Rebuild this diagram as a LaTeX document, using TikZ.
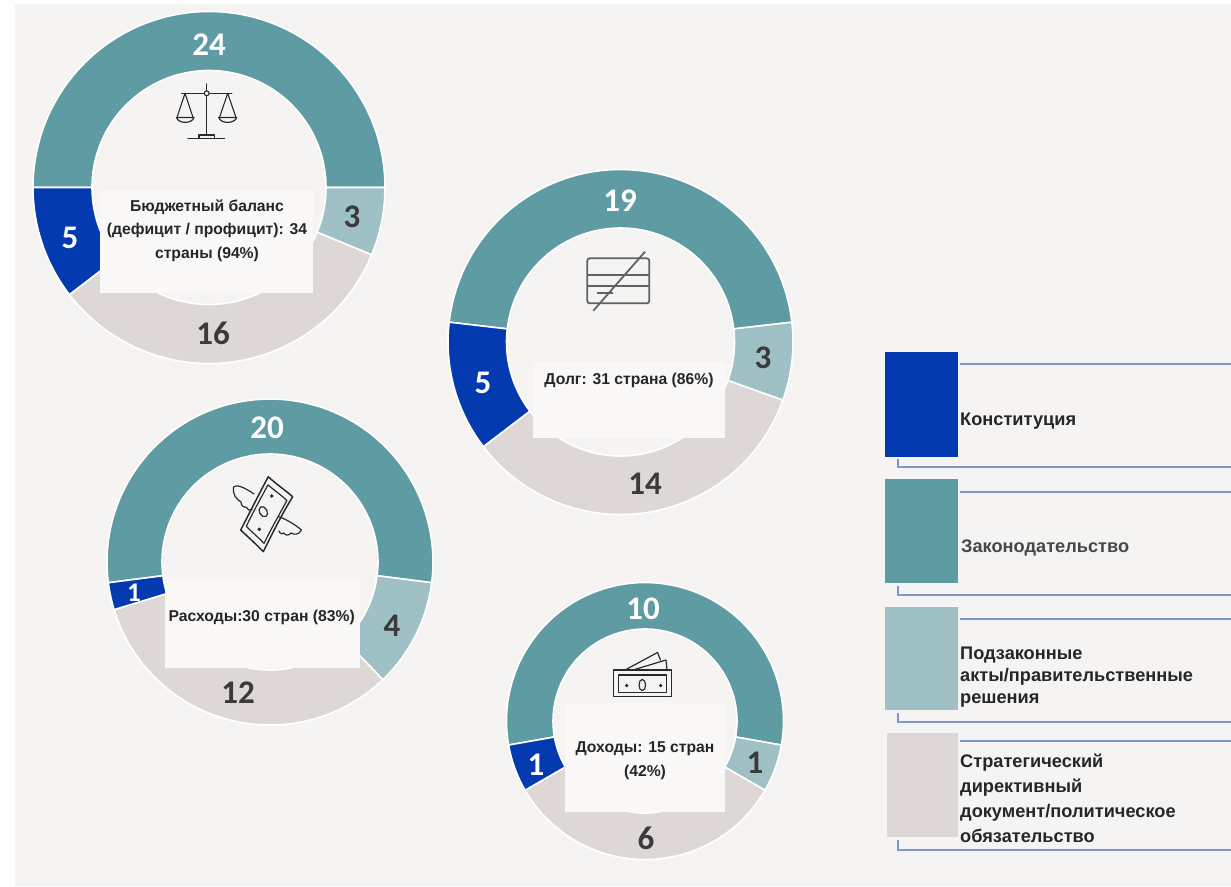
\documentclass[tikz,border=0pt]{standalone}
\usepackage{fontspec}
\setmainfont{Liberation Sans}
\newfontfamily\numfont{Carlito}
\begin{document}
\begin{tikzpicture}[x=1pt,y=1pt]
\definecolor{cblue}{HTML}{043AB0}
\definecolor{cteal}{HTML}{5E9BA3}
\definecolor{clteal}{HTML}{9FC0C4}
\definecolor{cgrey}{HTML}{DDD7D5}
\definecolor{cbg}{HTML}{F5F4F2}
\definecolor{cbox}{HTML}{F9F8F7}
\definecolor{cdark}{HTML}{3A3A3A}
\definecolor{ctext}{HTML}{262626}
\definecolor{cline}{HTML}{7C97CF}
\definecolor{cicon}{HTML}{2A2A2A}
\tikzset{
  numw/.style={font=\numfont\bfseries\fontsize{33}{33}\selectfont, text=white, inner sep=0pt},
  numd/.style={font=\numfont\bfseries\fontsize{33}{33}\selectfont, text=cdark, inner sep=0pt},
  ctr/.style={font=\bfseries\fontsize{15.7}{23.5}\selectfont, text=ctext, align=center, inner sep=0pt},
  lbox/.style={fill=cbox, draw=none},
  legtxt/.style={font=\bfseries\fontsize{18.2}{22}\selectfont, text=ctext, align=left, anchor=west, inner sep=0pt},
  legline/.style={draw=cline, line width=1.2pt},
  icon/.style={draw=cicon, line width=1.4pt, line cap=round, line join=round},
  cardicon/.style={draw=black!62, line width=1.8pt},
}
\newcommand\donutseg[7]{%
  \fill[#7, draw=white, line width=1.6pt] ([shift={(#1,#2)}]#5:#3pt) arc[start angle=#5, end angle=#6, radius=#3pt] -- ([shift={(#1,#2)}]#6:#4pt) arc[start angle=#6, end angle=#5, radius=#4pt] -- cycle;}
\useasboundingbox (0,0) rectangle (1231,-886);
\fill[white] (0,0) rectangle (1231,-886);
\fill[cbg] (15,-4) rectangle (1231,-886);

% ---------- Donut 1: budget balance
\donutseg{209}{-187.5}{176}{117}{180}{0}{cteal}
\donutseg{209}{-187.5}{176}{117}{0}{-22.5}{clteal}
\donutseg{209}{-187.5}{176}{117}{-22.5}{-142.5}{cgrey}
\donutseg{209}{-187.5}{176}{117}{-142.5}{-180}{cblue}
\fill[lbox] (100,-190) rectangle (313,-293);
% scales icon
\draw[icon] (206.7,-84) -- (206.7,-135);
\draw[icon] (181.7,-93.3) -- (231.7,-93.3);
\filldraw[icon, fill=cbg, line width=1.1pt] (206.7,-93.3) circle (2.4);
\draw[icon, line width=1.1pt] (177,-117.5) -- (185,-93.3) -- (193,-117.5);
\draw[icon, line width=1.2pt] (176.5,-117.5) -- (194,-117.5) .. controls (192,-124) and (178.5,-124) .. (176.5,-117.5);
\draw[icon, line width=1.1pt] (219.5,-117.5) -- (227.7,-93.3) -- (236,-117.5);
\draw[icon, line width=1.2pt] (218.7,-117.5) -- (236.7,-117.5) .. controls (234.7,-124) and (220.7,-124) .. (218.7,-117.5);
\draw[icon, line width=1.2pt] (199,-138.5) -- (199,-135) -- (214.5,-135) -- (214.5,-138.5);
\draw[icon] (188,-138.5) -- (224.5,-138.5);
\node[ctr] (t1) at (207,-230.5) {Бюджетный баланс\\(дефицит / профицит): 34\\страны (94\%)};
\node[numw] (n1a) at (209,-45) {24};
\node[numd] (n1b) at (352,-217) {3};
\node[numd] (n1c) at (213,-333) {16};
\node[numw] (n1d) at (70,-238) {5};

% ---------- Donut 2: debt
\donutseg{620.5}{-342}{172.5}{114}{173.4}{6.6}{cteal}
\donutseg{620.5}{-342}{172.5}{114}{6.6}{-19.74}{clteal}
\donutseg{620.5}{-342}{172.5}{114}{-19.74}{-142.66}{cgrey}
\donutseg{620.5}{-342}{172.5}{114}{-142.66}{-186.6}{cblue}
\fill[lbox] (533,-362) rectangle (725,-438);
% card icon
\draw[cardicon, rounded corners=2.5pt] (587.3,-258.3) rectangle (649.3,-303.3);
\draw[cardicon] (587.3,-275) -- (649.3,-275);
\draw[cardicon] (587.3,-286) -- (649.3,-286);
\draw[cardicon] (597,-292.7) -- (613,-292.7);
\draw[cardicon] (593.3,-310.7) -- (645,-251.7);
\node[ctr] (t2) at (629,-380) {Долг: 31 страна (86\%)};
\node[numw] (n2a) at (620,-201) {19};
\node[numd] (n2b) at (763,-358) {3};
\node[numd] (n2c) at (645,-484) {14};
\node[numw] (n2d) at (483,-383) {5};

% ---------- Donut 3: expenditures
\donutseg{270}{-562}{163}{108}{187.3}{-7.3}{cteal}
\donutseg{270}{-562}{163}{108}{-7.3}{-46.2}{clteal}
\donutseg{270}{-562}{163}{108}{-46.2}{-163.0}{cgrey}
\donutseg{270}{-562}{163}{108}{-163.0}{-172.7}{cblue}
\fill[lbox] (165,-580) rectangle (360,-668);
% flying money icon
\draw[icon, line width=1.5pt] (268.3,-476.7) .. controls (276,-484) and (285,-490) .. (292.7,-496.7) .. controls (282,-514) and (272,-534) .. (263.3,-551.7) .. controls (256,-544) and (248,-537) .. (240.7,-530) .. controls (250,-512) and (259,-494) .. cycle;
\draw[icon, line width=1.2pt] (267.9,-484.9) .. controls (274,-490) and (281,-495) .. (286.9,-500.5) .. controls (279,-515) and (271,-529) .. (264,-543.4) .. controls (258,-537) and (252,-532) .. (246.3,-526.4) .. controls (253,-512) and (261,-498) .. cycle;
\draw[icon, line width=1.2pt, rotate around={-60:(263.3,-511.7)}] (263.3,-511.7) ellipse (5.4 and 3.8);
\fill[cicon] (271.7,-496) circle (1.9);
\fill[cicon] (259.3,-529.3) circle (1.9);
\draw[icon, line width=1.2pt] (254,-494) .. controls (244,-487) and (236,-484) .. (233.5,-487) .. controls (232,-494) and (237,-500) .. (241,-502) .. controls (241,-506) and (244,-508) .. (246.5,-507.5) .. controls (247,-510) and (250,-511) .. (252,-509.5);
\draw[icon, line width=1.2pt] (278.5,-516.5) .. controls (288,-520) and (297,-526) .. (301.5,-530) .. controls (299,-535) and (294,-535) .. (291,-533) .. controls (289,-536) and (285,-535.5) .. (284,-533) .. controls (283,-535) and (280,-534) .. (279,-531);
\node[ctr] (t3) at (261.7,-617) {Расходы:30 стран (83\%)};
\node[numw] (n3a) at (267,-428) {20};
\node[numd] (n3b) at (392,-626) {4};
\node[numd] (n3c) at (238,-693) {12};
\node[numw, font=\numfont\bfseries\fontsize{27}{27}\selectfont] (n3d) at (134,-593) {1};

% ---------- Donut 4: revenue
\donutseg{645}{-721}{138.5}{92}{190}{-10}{cteal}
\donutseg{645}{-721}{138.5}{92}{-10}{-30}{clteal}
\donutseg{645}{-721}{138.5}{92}{-30}{-150}{cgrey}
\donutseg{645}{-721}{138.5}{92}{-150}{-170}{cblue}
\fill[lbox] (565,-703) rectangle (725,-812);
% money icon
\draw[icon, line width=1.5pt] (613.3,-670) rectangle (671.7,-696.7);
\draw[icon, line width=1.1pt] (618.3,-675) rectangle (666.7,-692.3);
\draw[icon, line width=1.2pt] (642.3,-685) ellipse (3.3 and 5.6);
\fill[cicon] (626.7,-685.5) circle (1.8);
\fill[cicon] (660.7,-685.5) circle (1.8);
\draw[icon, line width=1.2pt] (625,-670) -- (657.5,-652.5) -- (660.5,-660);
\draw[icon, line width=1.2pt] (633,-670) -- (666,-660) -- (667,-670);
\node[ctr] (t4) at (645,-760.5) {Доходы: 15 стран\\(42\%)};
\node[numw] (n4a) at (643,-609) {10};
\node[numd] (n4b) at (755,-763) {1};
\node[numd] (n4c) at (646,-838) {6};
\node[numw] (n4d) at (536,-765) {1};

% ---------- Legend
\fill[cblue] (885,-352) rectangle (958,-457);
\fill[cteal] (885,-479) rectangle (958,-583);
\fill[clteal] (885,-607) rectangle (958,-710);
\fill[cgrey] (887,-733) rectangle (958,-837);
\coordinate (r1) at (1231,-364);
\coordinate (r2) at (1231,-492);
\coordinate (r3) at (1231,-619);
\coordinate (r4) at (1231,-741);
\draw[legline] (960,-364) -- (r1);
\draw[legline] (960,-492) -- (r2);
\draw[legline] (960,-619) -- (r3);
\draw[legline] (960,-741) -- (r4);
\draw[legline] (898,-459) -- (898,-467) -- (1231,-467);
\draw[legline] (898,-586) -- (898,-595) -- (1231,-595);
\draw[legline] (898,-713) -- (898,-722) -- (1231,-722);
\draw[legline] (898,-840) -- (898,-850) -- (1231,-850);
\node[legtxt] (l1) at (960,-421) {Конституция};
\node[legtxt, text=black!72] (l2) at (961,-548) {Законодательство};
\node[legtxt] (l3) at (960,-677) {Подзаконные\\акты/правительственные\\решения};
\node[legtxt, font=\bfseries\fontsize{18.2}{25}\selectfont] (l4) at (960,-798.5) {Стратегический\\директивный\\документ/политическое\\обязательство};
\end{tikzpicture}
\end{document}
